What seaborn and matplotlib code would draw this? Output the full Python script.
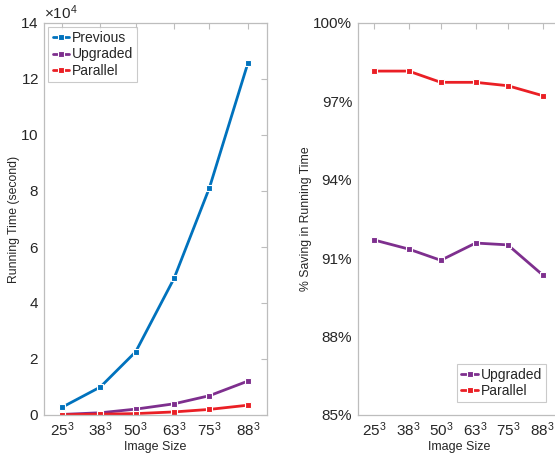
import matplotlib
matplotlib.use("Agg")
import matplotlib.pyplot as plt
import matplotlib.ticker as mticker
import seaborn as sns
import pandas as pd

# Image sizes (edge length, volume = n^3)
sizes = [25, 38, 50, 63, 75, 88]
size_labels = [r"$\mathregular{%d^3}$" % s for s in sizes]

# Running time in seconds
previous = [2750, 10000, 22600, 48800, 81200, 125600]
upgraded = [200, 800, 2100, 4000, 6900, 12100]
parallel = [100, 300, 500, 1100, 2000, 3500]

# Percentage saving in running time relative to the previous version
saving_upgraded = [91.70, 91.35, 90.92, 91.58, 91.51, 90.36]
saving_parallel = [98.16, 98.16, 97.73, 97.73, 97.60, 97.22]

colors = {"Previous": "#0072BD", "Upgraded": "#7E2F8E", "Parallel": "#EA1F25"}

sns.set_theme(style="white")
plt.rcParams["font.family"] = ["Liberation Sans", "DejaVu Sans"]
plt.rcParams["mathtext.fontset"] = "custom"
plt.rcParams["mathtext.rm"] = "Liberation Sans"
plt.rcParams["axes.unicode_minus"] = False

fig = plt.figure(figsize=(5.55, 4.59), dpi=100)
W, H = 555, 459
ax1 = fig.add_axes([44.3 / W, 1 - 415 / H, (266.7 - 44.3) / W, 392 / H])
ax2 = fig.add_axes([357.7 / W, 1 - 415 / H, (559.8 - 357.7) / W, 392 / H])

time_df = pd.DataFrame({
    "size": sizes * 3,
    "time": previous + upgraded + parallel,
    "version": ["Previous"] * 6 + ["Upgraded"] * 6 + ["Parallel"] * 6,
})
save_df = pd.DataFrame({
    "size": sizes * 2,
    "saving": saving_upgraded + saving_parallel,
    "version": ["Upgraded"] * 6 + ["Parallel"] * 6,
})

line_kw = dict(linewidth=2.0, marker="s", markersize=5, markeredgewidth=0.8)

sns.lineplot(data=time_df, x="size", y="time", hue="version",
             hue_order=["Previous", "Upgraded", "Parallel"],
             palette=colors, ax=ax1, **line_kw)
sns.lineplot(data=save_df, x="size", y="saving", hue="version",
             hue_order=["Upgraded", "Parallel"],
             palette=colors, ax=ax2, **line_kw)

edge = "#BDBDBD"
text_col = "#262626"
for ax in (ax1, ax2):
    ax.set_xlim(19.0, 94.4)
    ax.set_xticks(sizes)
    ax.set_xticklabels(size_labels)
    ax.set_xlabel("Image Size", fontsize=9, color=text_col, labelpad=1)
    for sp in ax.spines.values():
        sp.set_visible(True)
        sp.set_color(edge)
        sp.set_linewidth(0.9)
    ax.tick_params(direction="in", length=4, width=0.8, color=edge,
                   top=True, right=(ax is ax1), labelsize=11,
                   labelcolor=text_col, pad=4)
    leg = ax.get_legend()
    if leg is not None:
        leg.remove()

legend_kw = dict(fontsize=10, frameon=True, fancybox=False, edgecolor=edge,
                 borderpad=0.3, handlelength=1.2, handletextpad=0.2,
                 labelspacing=0.15)

# Left panel: running time
ax1.set_ylim(0, 140000)
ax1.set_yticks(range(0, 140001, 20000))
fmt = mticker.ScalarFormatter(useMathText=True)
fmt.set_powerlimits((4, 4))
ax1.yaxis.set_major_formatter(fmt)
ax1.yaxis.get_offset_text().set_fontsize(11)
ax1.yaxis.get_offset_text().set_color(text_col)
ax1.set_ylabel("Running Time (second)", fontsize=8.8, color=text_col)
ax1.yaxis.set_label_coords((20 - 44.3) / 222.4, 0.5)
h1, l1 = ax1.get_legend_handles_labels()
leg1 = ax1.legend(h1, l1, loc="upper left", borderaxespad=0.3, **legend_kw)
leg1.get_frame().set_linewidth(0.8)

# Right panel: percentage saving
ax2.set_ylim(85, 100)
ax2.set_yticks([85, 88, 91, 94, 97, 100])
ax2.yaxis.set_major_formatter(mticker.FuncFormatter(lambda v, p: "%d%%" % v))
ax2.set_ylabel("% Saving in Running Time", fontsize=8.8, color=text_col)
ax2.yaxis.set_label_coords((312 - 357.7) / 202.1, 0.5)
h2, l2 = ax2.get_legend_handles_labels()
leg2 = ax2.legend(h2, l2, loc="lower right",
                  bbox_to_anchor=(553 / W, 1 - 409 / H),
                  bbox_transform=fig.transFigure, **legend_kw)
leg2.get_frame().set_linewidth(0.8)

fig.savefig("out.png", dpi=100)
